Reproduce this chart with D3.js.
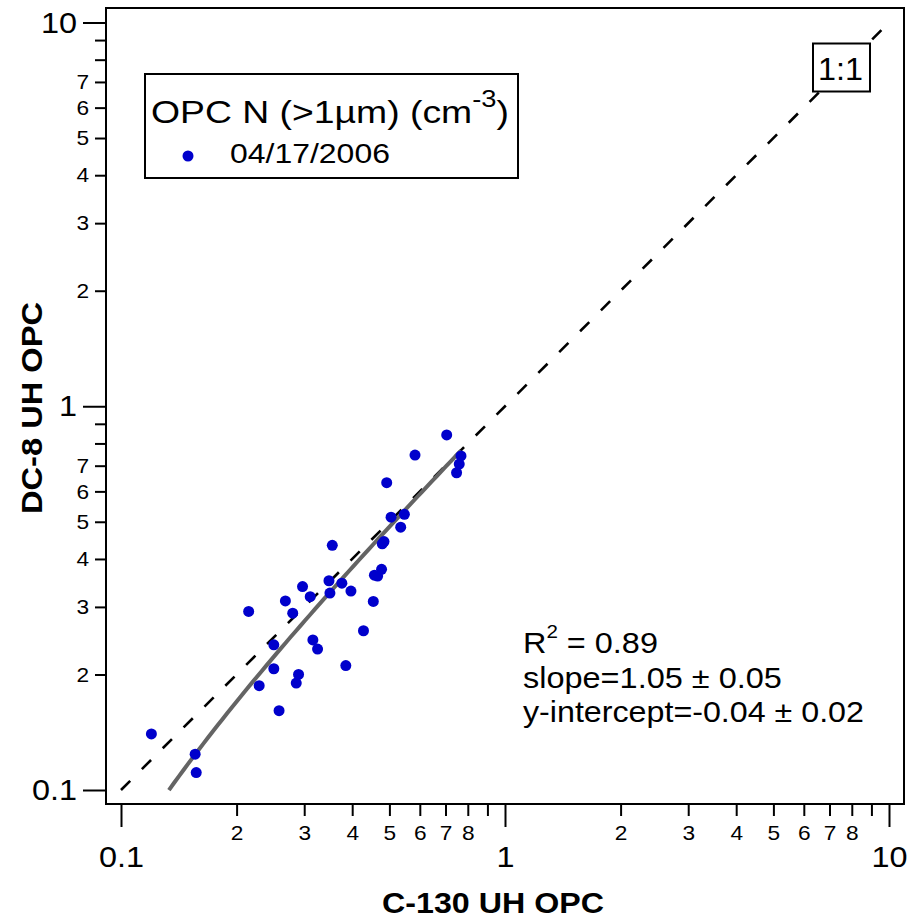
<!DOCTYPE html>
<html><head><meta charset="utf-8">
<script src="https://cdn.jsdelivr.net/npm/d3@7"></script>
<style>
html,body{margin:0;padding:0;background:#fff;}
svg{display:block;font-family:"Liberation Sans",Arial,sans-serif;}
</style></head>
<body><svg id="c" width="912" height="921"></svg>
<script>
// C-130 UH OPC (x) vs DC-8 UH OPC (y), OPC N (>1µm) (cm^-3), 04/17/2006
const c130 = [0.705,0.583,0.768,0.760,0.748,0.492,0.505,0.547,0.535,0.479,0.484,0.355,0.477,0.457,0.466,0.348,0.376,0.297,0.311,0.350,0.397,0.454,0.268,0.215,0.280,0.428,0.250,0.316,0.325,0.250,0.385,0.290,0.286,0.229,0.258,0.120,0.156,0.157];
const dc8  = [0.842,0.746,0.742,0.707,0.671,0.632,0.514,0.523,0.484,0.438,0.444,0.434,0.376,0.363,0.361,0.351,0.346,0.339,0.319,0.326,0.330,0.310,0.311,0.292,0.289,0.260,0.239,0.246,0.233,0.207,0.211,0.200,0.190,0.187,0.161,0.140,0.124,0.111];
const majorTicks = [0.1, 1, 10];
const minorTicksX = [0.2,0.3,0.4,0.5,0.6,0.7,0.8,0.9,2,3,4,5,6,7,8,9];
const minorTicksY = [0.2,0.3,0.4,0.5,0.6,0.7,0.8,0.9,2,3,4,5,6,7,8,9];
const labeledMinorX = [2,3,4,5,6,7,8];
const labeledMinorY = [2,3,4,5,6,7];
const fitSlope = 1.05, fitIntercept = -0.04;
const fitXRange = [0.1333, 0.768];
const oneToOne = [0.1, 10];
const legendTitle = "OPC N (>1µm) (cm";
const legendSeries = "04/17/2006";
const statsLines = ["= 0.89", "slope=1.05 ± 0.05", "y-intercept=-0.04 ± 0.02"];

const svg = d3.select("#c");
const frame = {l:106, r:904, t:8, b:804};
const x = d3.scaleLog().domain([0.1,10]).range([121, 889]);
const y = d3.scaleLog().domain([0.1,10]).range([790, 22.5]);

// horizontally stretch a text to a target width (reference glyphs are wider than Liberation Sans)
function fitWidth(sel, target, x0, pre){
  const w = sel.node().getBBox().width;
  const s = target / w;
  sel.attr("transform", (pre||"") + `translate(${x0},0) scale(${s},1) translate(${-x0},0)`);
}
function stretchLen(sel, f){
  sel.each(function(){
    const t = d3.select(this);
    if (!t.text()) return;
    t.attr("textLength", this.getComputedTextLength()*f).attr("lengthAdjust","spacingAndGlyphs");
  });
}

// 1:1 dashed line
svg.append("line")
  .attr("x1", x(oneToOne[0])).attr("y1", y(oneToOne[0]))
  .attr("x2", x(oneToOne[1])).attr("y2", y(oneToOne[1]))
  .attr("stroke","#000").attr("stroke-width",2.6).attr("stroke-dasharray","13,16.5");

// fit line
const fitPts = d3.range(0, 61).map(i => {
  const lx = Math.log10(fitXRange[0]) + (Math.log10(fitXRange[1]) - Math.log10(fitXRange[0])) * i / 60;
  const xv = Math.pow(10, lx);
  return [xv, fitSlope * xv + fitIntercept];
});
svg.append("path")
  .attr("d", d3.line().x(d=>x(d[0])).y(d=>y(d[1]))(fitPts))
  .attr("fill","none").attr("stroke","#646464").attr("stroke-width",4);

// points
svg.append("g").selectAll("circle").data(c130.map((v,i)=>[v,dc8[i]])).join("circle")
  .attr("cx", d=>x(d[0])).attr("cy", d=>y(d[1])).attr("r",5.5).attr("fill","#0000CC");

// frame
svg.append("rect").attr("x",frame.l).attr("y",frame.t)
  .attr("width",frame.r-frame.l).attr("height",frame.b-frame.t)
  .attr("fill","none").attr("stroke","#000").attr("stroke-width",2);

function styleAxis(g){
  g.select(".domain").remove();
  g.selectAll(".tick line").attr("stroke","#000").attr("stroke-width",2);
  g.selectAll("text").attr("fill","#000").attr("font-family","Liberation Sans, Arial, sans-serif");
}
const mant = d => Math.round(d/Math.pow(10,Math.floor(Math.log10(d)+1e-9)));
// x axis
const gxMaj = svg.append("g").attr("transform",`translate(0,${frame.b})`)
  .call(d3.axisBottom(x).tickValues(majorTicks).tickSize(23).tickPadding(19).tickFormat(d=>d3.format("~g")(d)));
styleAxis(gxMaj); gxMaj.selectAll("text").attr("font-size",30);
const gxMin = svg.append("g").attr("transform",`translate(0,${frame.b})`)
  .call(d3.axisBottom(x).tickValues(minorTicksX).tickSize(12).tickPadding(9)
    .tickFormat(d=>labeledMinorX.includes(mant(d))?String(mant(d)):""));
styleAxis(gxMin); gxMin.selectAll("text").attr("font-size",21);
// y axis
const gyMaj = svg.append("g").attr("transform",`translate(${frame.l},0)`)
  .call(d3.axisLeft(y).tickValues(majorTicks).tickSize(23).tickPadding(6).tickFormat(d=>d3.format("~g")(d)));
styleAxis(gyMaj); gyMaj.selectAll("text").attr("font-size",30);
const gyMin = svg.append("g").attr("transform",`translate(${frame.l},0)`)
  .call(d3.axisLeft(y).tickValues(minorTicksY).tickSize(11).tickPadding(6)
    .tickFormat(d=>labeledMinorY.includes(mant(d))?String(mant(d)):""));
styleAxis(gyMin); gyMin.selectAll("text").attr("font-size",21);
[gxMaj,gxMin,gyMaj,gyMin].forEach(g=>stretchLen(g.selectAll("text"),1.08));

// axis titles
const xt = svg.append("text").attr("x",493).attr("y",913).attr("text-anchor","middle")
  .attr("font-size",30).attr("font-weight","bold").text("C-130 UH OPC");
fitWidth(xt, 222, 493);
const yt = svg.append("text").attr("x",0).attr("y",0).attr("text-anchor","middle")
  .attr("font-size",30).attr("font-weight","bold").text("DC-8 UH OPC");
fitWidth(yt, 212, 0, "translate(41.5,408) rotate(-90) ");

// legend
svg.append("rect").attr("x",145).attr("y",74).attr("width",373).attr("height",104)
  .attr("fill","#fff").attr("stroke","#000").attr("stroke-width",2);
const lt = svg.append("text").attr("x",151).attr("y",123.5).attr("font-size",31.5);
lt.append("tspan").text(legendTitle);
lt.append("tspan").attr("font-size",23).attr("dy",-16).text("-3");
lt.append("tspan").attr("dy",16).text(")");
fitWidth(lt, 358, 151);
svg.append("circle").attr("cx",188).attr("cy",156).attr("r",5.5).attr("fill","#0000CC");
const ls = svg.append("text").attr("x",230).attr("y",163.5).attr("font-size",27).text(legendSeries);
fitWidth(ls, 160, 230);

// stats text
const s1 = svg.append("text").attr("x",523).attr("y",653.5).attr("font-size",30);
s1.append("tspan").text("R");
s1.append("tspan").attr("font-size",19).attr("dy",-15).text("2");
s1.append("tspan").attr("dy",15).text(" " + statsLines[0]);
fitWidth(s1, 135, 523);
const s2 = svg.append("text").attr("x",523).attr("y",688.5).attr("font-size",30).text(statsLines[1]);
fitWidth(s2, 259, 523);
const s3 = svg.append("text").attr("x",523).attr("y",722).attr("font-size",30).text(statsLines[2]);
fitWidth(s3, 341, 523);

// 1:1 label box
svg.append("rect").attr("x",813).attr("y",43.5).attr("width",57).attr("height",48)
  .attr("fill","#fff").attr("stroke","#000").attr("stroke-width",2);
const ot = svg.append("text").attr("x",840.5).attr("y",80).attr("text-anchor","middle").attr("font-size",31).text("1:1");
fitWidth(ot, 45, 840.5);
</script></body></html>
